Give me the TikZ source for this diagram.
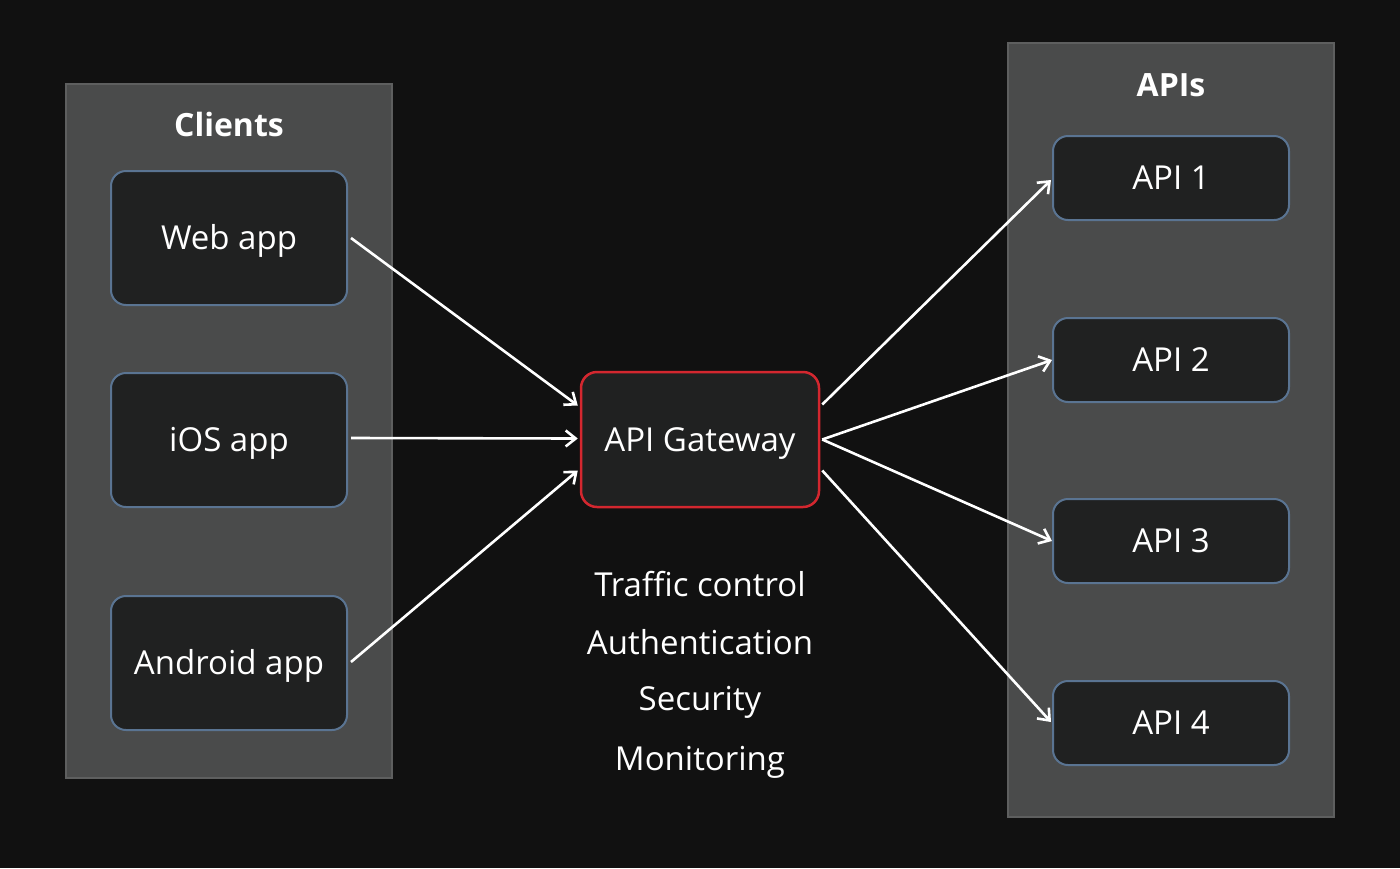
\documentclass[tikz,border=0pt]{standalone}
\usepackage{fontspec}
\setmainfont{Open Sans}
\usetikzlibrary{arrows.meta,calc}
\definecolor{bgc}{HTML}{111111}
\definecolor{contfill}{HTML}{4A4B4B}
\definecolor{contdraw}{HTML}{5E5F5F}
\definecolor{boxfill}{HTML}{202121}
\definecolor{boxdraw}{HTML}{5A7492}
\definecolor{gwdraw}{HTML}{D3272F}
\tikzset{
  container/.style={draw=contdraw, fill=contfill, line width=2pt},
  appbox/.style={draw=boxdraw, fill=boxfill, line width=2pt, rounded corners=15pt, text=white, font=\fontsize{33}{38}\selectfont, text height=23pt, text depth=0pt},
  gwbox/.style={draw=gwdraw, fill=boxfill, line width=2.5pt, rounded corners=16pt, text=white, font=\fontsize{33}{38}\selectfont, text height=23pt, text depth=0pt},
  title/.style={text=white, font=\bfseries\fontsize{32}{38}\selectfont},
  feat/.style={text=white, font=\fontsize{33}{38}\selectfont},
  conn/.style={draw=white, line width=2.6pt, -{Straight Barb[length=10pt,width=16pt,line width=2.6pt]}},
}
\begin{document}
\begin{tikzpicture}[x=1pt,y=-1pt]
\fill[bgc] (0,0) rectangle (1400,868);
\useasboundingbox (0,0) rectangle (1400,868);
% containers
\node[container, minimum width=326pt, minimum height=694pt, inner sep=0pt] (clients) at (229,431) {};
\node[container, minimum width=326pt, minimum height=774pt, inner sep=0pt] (apis) at (1171,430) {};
\node[title] (clientsT) at (229,124) {Clients};
\node[title] (apisT) at (1171,85) {APIs};
% client boxes
\node[appbox, minimum width=236pt, minimum height=134pt, inner sep=0pt] (web) at (229,238) {Web app};
\node[appbox, minimum width=236pt, minimum height=134pt, inner sep=0pt] (ios) at (229,440) {iOS app};
\node[appbox, minimum width=236pt, minimum height=134pt, inner sep=0pt] (android) at (229,663) {Android app};
% gateway
\node[gwbox, minimum width=238pt, minimum height=135pt, inner sep=0pt] (gw) at (700,439.5) {API Gateway};
% api boxes
\node[appbox, minimum width=236pt, minimum height=84pt, inner sep=0pt] (api1) at (1171,178) {API 1};
\node[appbox, minimum width=236pt, minimum height=84pt, inner sep=0pt] (api2) at (1171,360) {API 2};
\node[appbox, minimum width=236pt, minimum height=84pt, inner sep=0pt] (api3) at (1171,541) {API 3};
\node[appbox, minimum width=236pt, minimum height=84pt, inner sep=0pt] (api4) at (1171,723) {API 4};
% features
\node[feat] (f1) at (700,584) {Traffic control};
\node[feat] (f2) at (700,642) {Authentication};
\node[feat] (f3) at (700,702) {Security};
\node[feat] (f4) at (700,762) {Monitoring};
% connectors
\draw[conn] ([xshift=3pt]web.east) -- ([xshift=-2pt,yshift=34pt]gw.west);
\draw[conn] ([xshift=3pt,yshift=2pt]ios.east) -- ([xshift=-2pt,yshift=1pt]gw.west);
\draw[conn] ([xshift=3pt,yshift=1pt]android.east) -- ([xshift=-2pt,yshift=-31pt]gw.west);
\draw[conn] ([xshift=2pt,yshift=35pt]gw.east) -- ([xshift=-1pt,yshift=-2pt]api1.west);
\draw[conn] ([xshift=2pt]gw.east) -- (api2.west);
\draw[conn] ([xshift=2pt]gw.east) -- (api3.west);
\draw[conn] ([xshift=2pt,yshift=-31pt]gw.east) -- ([xshift=-1pt,yshift=1pt]api4.west);
\end{tikzpicture}
\end{document}
